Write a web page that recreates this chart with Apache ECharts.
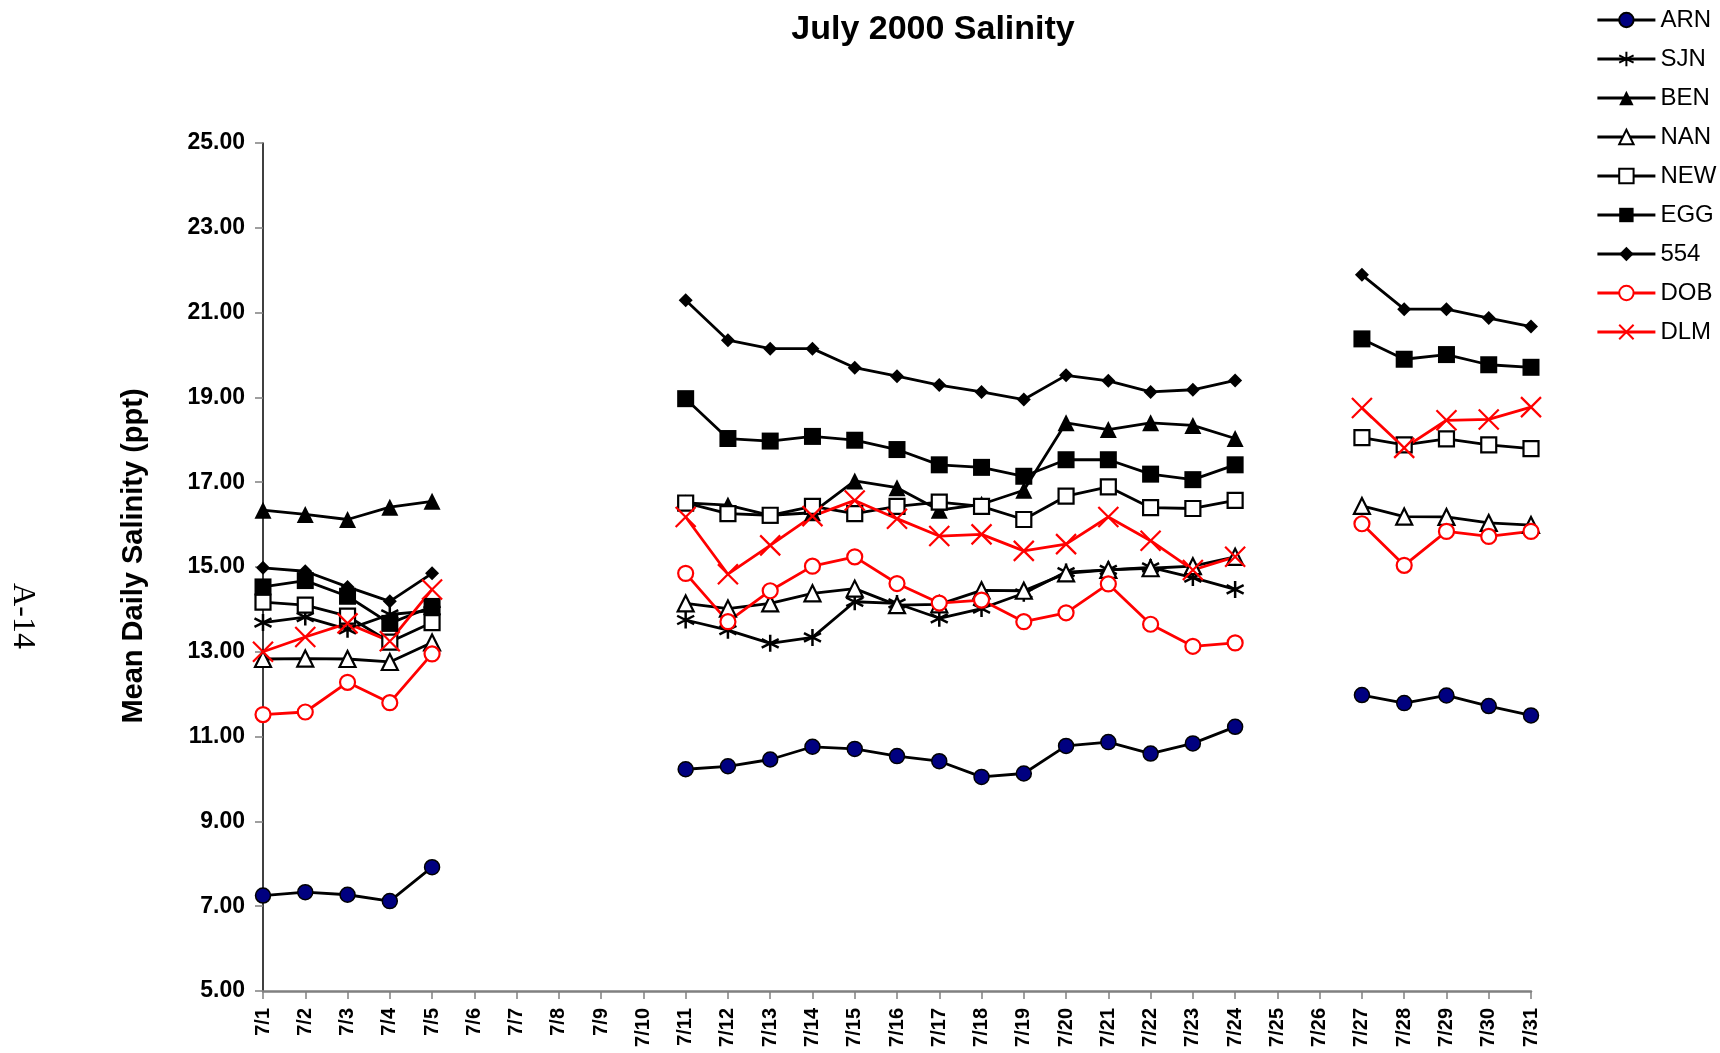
<!DOCTYPE html>
<html>
<head>
<meta charset="utf-8">
<script src="https://cdn.jsdelivr.net/npm/echarts@6/dist/echarts.min.js"></script>
<style>
html,body{margin:0;padding:0;background:#fff;}
#chart{width:1720px;height:1053px;}
</style>
</head>
<body>
<div id="chart"></div>
<script>
// ---- DATA ----
const categories = ['7/1','7/2','7/3','7/4','7/5','7/6','7/7','7/8','7/9','7/10','7/11','7/12','7/13','7/14','7/15','7/16','7/17','7/18','7/19','7/20','7/21','7/22','7/23','7/24','7/25','7/26','7/27','7/28','7/29','7/30','7/31'];
const N = null;
const ARN = [7.25,7.33,7.27,7.12,7.92, N,N,N,N,N, 10.23,10.30,10.46,10.76,10.71,10.54,10.42,10.05,10.13,10.78,10.87,10.60,10.84,11.23, N,N, 11.98,11.79,11.97,11.72,11.50];
const SJN = [13.69,13.82,13.53,13.88,13.97, N,N,N,N,N, 13.75,13.51,13.20,13.34,14.18,14.14,13.79,14.02,14.38,14.88,14.93,14.99,14.75,14.47, N,N, N,N,N,N,N];
const BEN = [16.34,16.24,16.12,16.41,16.55, N,N,N,N,N, 16.51,16.46,16.22,16.28,17.03,16.87,16.34,16.48,16.81,18.40,18.24,18.40,18.34,18.03, N,N, N,N,N,N,N];
const NAN = [12.83,12.84,12.83,12.76,13.22, N,N,N,N,N, 14.14,14.02,14.14,14.38,14.49,14.10,14.12,14.45,14.44,14.85,14.93,14.97,15.02,15.24, N,N, 16.44,16.19,16.18,16.04,15.99];
const NEW = [14.17,14.10,13.84,13.23,13.69, N,N,N,N,N, 16.51,16.26,16.22,16.43,16.26,16.43,16.53,16.43,16.12,16.67,16.89,16.40,16.38,16.57, N,N, 18.05,17.88,18.02,17.88,17.79];
const EGG = [14.53,14.68,14.31,13.67,14.07, N,N,N,N,N, 18.97,18.03,17.97,18.08,17.99,17.77,17.41,17.35,17.14,17.53,17.53,17.19,17.06,17.41, N,N, 20.38,19.90,20.01,19.77,19.71];
const S554 = [14.98,14.90,14.53,14.19,14.85, N,N,N,N,N, 21.29,20.35,20.15,20.15,19.70,19.50,19.29,19.13,18.95,19.52,19.39,19.13,19.18,19.40, N,N, 21.89,21.08,21.08,20.87,20.67];
const DOB = [11.52,11.58,12.28,11.80,12.95, N,N,N,N,N, 14.85,13.71,14.44,15.02,15.24,14.61,14.15,14.22,13.71,13.92,14.60,13.65,13.13,13.21, N,N, 16.02,15.04,15.84,15.72,15.84];
const DLM = [13.00,13.35,13.67,13.25,14.47, N,N,N,N,N, 16.18,14.83,15.51,16.20,16.57,16.14,15.73,15.77,15.38,15.54,16.18,15.62,14.93,15.24, N,N, 18.75,17.81,18.46,18.48,18.77];
const seriesNames = ['ARN','SJN','BEN','NAN','NEW','EGG','554','DOB','DLM'];
const yTicks = {min: 5, max: 25, interval: 2};

// ---- STYLE ----
const FONT = '"Liberation Sans", Arial, sans-serif';
const ASTERISK = 'path://M50,0L50,100M6.7,25L93.3,75M6.7,75L93.3,25';
const XMARK = 'path://M0,0L100,100M0,100L100,0';

function mk(name, data, lineColor, symbol, size, item) {
  return {
    name: name, type: 'line', data: data,
    symbol: symbol, symbolSize: size, showAllSymbol: true,
    connectNulls: false,
    lineStyle: {color: lineColor, width: 2.8},
    itemStyle: item,
    emphasis: {disabled: true}
  };
}
const black = '#000';
const red = '#ff0000';
const series = [
  mk('ARN', ARN, black, 'circle', 15, {color: '#000080', borderColor: black, borderWidth: 1.5}),
  mk('SJN', SJN, black, ASTERISK, 17, {color: 'rgba(0,0,0,0)', borderColor: black, borderWidth: 2.5}),
  mk('BEN', BEN, black, 'triangle', 17, {color: black, borderColor: black, borderWidth: 0}),
  mk('NAN', NAN, black, 'triangle', 16, {color: '#fff', borderColor: black, borderWidth: 2.2}),
  mk('NEW', NEW, black, 'rect', 15, {color: '#fff', borderColor: black, borderWidth: 2.2}),
  mk('EGG', EGG, black, 'rect', 17, {color: black, borderColor: black, borderWidth: 0}),
  mk('554', S554, black, 'diamond', 14, {color: black, borderColor: black, borderWidth: 0}),
  mk('DOB', DOB, red, 'circle', 15, {color: '#fff', borderColor: red, borderWidth: 2.2}),
  mk('DLM', DLM, red, XMARK, 20, {color: 'rgba(0,0,0,0)', borderColor: red, borderWidth: 2.2})
];

const chart = echarts.init(document.getElementById('chart'), null, {renderer: 'canvas'});
chart.setOption({
  animation: false,
  backgroundColor: '#fff',
  textStyle: {fontFamily: FONT},
  grid: {left: 263, right: 189, top: 143, bottom: 62, containLabel: false},
  legend: {
    data: seriesNames, orient: 'vertical', left: 1596, top: 8,
    itemWidth: 58, itemHeight: 18, itemGap: 15, padding: 0,
    selectedMode: false,
    lineStyle: {width: 2.8},
    textStyle: {fontSize: 24, color: '#000', fontFamily: FONT}
  },
  xAxis: {
    type: 'category', data: categories, boundaryGap: false,
    axisLine: {lineStyle: {color: '#808080', width: 2.5}},
    axisTick: {show: true, interval: 0, length: 8, lineStyle: {color: '#808080', width: 1.5}},
    axisLabel: {interval: 0, rotate: 90, margin: 17, fontSize: 20, fontWeight: 'bold', color: '#000', fontFamily: FONT},
    splitLine: {show: false}
  },
  yAxis: {
    type: 'value', min: yTicks.min, max: yTicks.max, interval: yTicks.interval,
    axisLine: {show: true, lineStyle: {color: '#000', width: 1.5}},
    axisTick: {show: true, length: 8, lineStyle: {color: '#808080', width: 1.5}},
    axisLabel: {margin: 18, fontSize: 23, fontWeight: 'bold', color: '#000', fontFamily: FONT,
      formatter: function (v) { return v.toFixed(2); }},
    splitLine: {show: false}
  },
  graphic: [
    {type: 'text', x: 933, y: 30, style: {text: 'July 2000 Salinity', font: 'bold 34px ' + FONT, fill: '#000', textAlign: 'center', textVerticalAlign: 'middle'}},
    {type: 'text', x: 134, y: 556, rotation: Math.PI / 2, style: {text: 'Mean Daily Salinity (ppt)', font: 'bold 29px ' + FONT, fill: '#000', textAlign: 'center', textVerticalAlign: 'middle'}},
    {type: 'text', x: 22, y: 616, rotation: -Math.PI / 2, style: {text: 'A-14', font: '32px "Liberation Serif", "Times New Roman", serif', fill: '#000', textAlign: 'center', textVerticalAlign: 'middle'}}
  ],
  series: series
});
</script>
</body>
</html>
